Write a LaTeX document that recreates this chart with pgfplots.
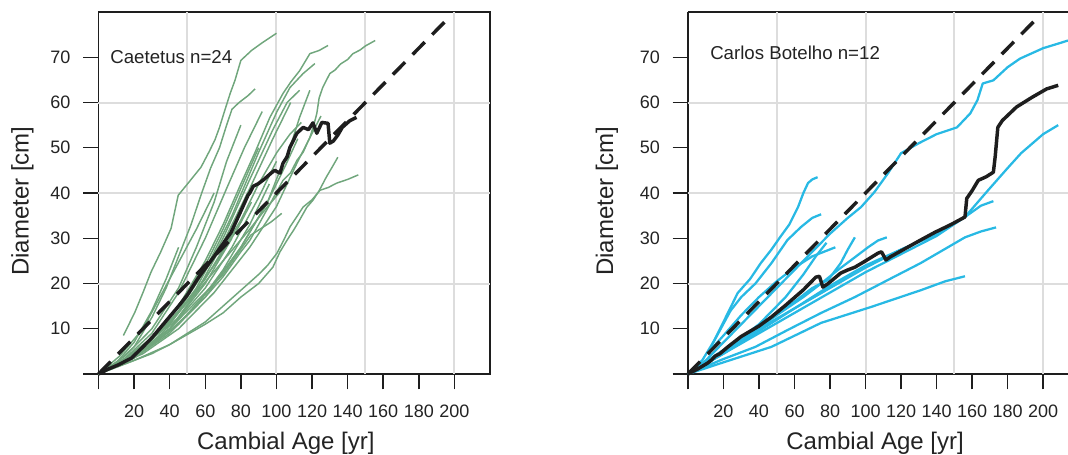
\documentclass[border=0pt]{standalone}
\usepackage{fontspec}
\setmainfont{Liberation Sans}
\usepackage{pgfplots}
\pgfplotsset{compat=1.18}
\definecolor{grn}{RGB}{112,166,124}
\definecolor{cyn}{RGB}{40,185,228}
\definecolor{blk}{RGB}{30,30,30}
\definecolor{grd}{RGB}{221,221,221}
\definecolor{txt}{RGB}{35,35,35}
\pgfplotsset{
 panel/.style={
  scale only axis, height=271.5pt, ymin=0, ymax=80, xmin=0,
  xtick={0,20,...,200}, xticklabels={,20,40,60,80,100,120,140,160,180,200},
  ytick={0,10,...,70}, yticklabels={,10,20,30,40,50,60,70},
  xtick pos=bottom, ytick pos=left,
  tick align=outside, major tick length=11.5pt,
  every tick/.style={blk, line width=1.1pt},
  axis line style={blk, line width=1.3pt},
  tick label style={font=\fontsize{13.5}{15}\selectfont, text=txt},
  xticklabel style={yshift=-8.5pt},
  yticklabel style={xshift=-6pt},
  /pgf/number format/assume math mode=true,
  extra x ticks={50,100,150,200}, extra y ticks={20,40,60},
  extra x tick labels={\empty,\empty,\empty,\empty},
  extra y tick labels={\empty,\empty,\empty},
  extra tick style={grid=major, major tick length=0pt},
  major grid style={grd, line width=1.5pt},
  label style={font=\fontsize{18}{20}\selectfont, text=txt},
  clip=false,
 },
 g/.style={grn, line width=1.1pt, line join=round},
 c/.style={cyn, line width=1.7pt, line join=round},
 mean/.style={blk, line width=2.6pt, line join=round},
 diag/.style={blk, line width=2.6pt, dash pattern=on 13pt off 8pt},
}
\begin{document}
\begin{tikzpicture}
\begin{axis}[panel, width=293.6pt, xmax=220,
  xlabel={Cambial Age [yr]}, ylabel={Diameter [cm]},
  x label style={at={(axis description cs:0.4786,-0.1906)}, anchor=center},
  y label style={at={(axis description cs:-0.1941,0.4775)}, anchor=center}]
\addplot[g] coordinates {(14,8.5)(20.5,13.7)(25,18)(29.5,22.5)(35,27)(40.8,32.2)(44.8,39.5)(50,42)(57.6,45.7)(62,49)(65.4,51.7)(68,54.5)(71,58.3)(74,62)(76.7,64.9)(80,69.3)(86,71.5)(92,73.2)(100,75.3)};
\addplot[g] coordinates {(0,0)(10,2.5)(20,6)(30,12.5)(38,19)(45,26)(52,33)(58,40)(63,45.5)(68,50)(72,55)(75,58.5)(79,60)(84,61.5)(88,63)};
\addplot[g] coordinates {(0,0)(15,3)(30,8)(45,15)(60,25)(70,33)(80,42)(88,49)(96.3,56.7)(103.7,62)(108,64.5)(113,67)(118.8,70.8)(124,71.5)(129,72.6)};
\addplot[g] coordinates {(0,0)(15,3)(30,7.5)(45,14)(60,23)(75,35)(90,49)(100.3,58)(107.6,63.3)(115,66.4)(121.6,68.6)};
\addplot[g] coordinates {(0,0)(20,4)(30,6.5)(40,9.5)(50,13)(60,17)(70,21.5)(80,27)(85,29.5)(90,33)(97,38)(103.7,42.8)(108,44.5)(111.5,47.2)(115,49)(118.8,52.3)(121,55)(122.7,57.6)(124,61)(126,63.3)(130,66.4)(133,67.2)(136,68.5)(140,69.5)(143,70.8)(147,71.6)(150,72.5)(155.5,73.7)};
\addplot[g] coordinates {(0,0)(20,3.5)(40,9)(60,17)(80,28)(95,38)(102,45)(107.6,50)(113,56.7)(118.8,62.7)};
\addplot[g] coordinates {(0,0)(20,4.5)(40,11)(55,19)(70,30)(85,43)(98,54)(106,60)(113,62.7)};
\addplot[g] coordinates {(0,0)(20,3)(40,6.5)(60,11)(70,13.5)(80,17)(90,20)(98,23.6)(102,27)(106,29.6)(110,32)(113,34)(117,36.8)(120.5,38.4)(124,40.5)(128,43.5)(131,45.5)(134.5,47.9)};
\addplot[g] coordinates {(0,0)(30,4.5)(40,6.5)(50,9)(60,11.5)(70,15)(80,18.5)(90,22)(95,24)(100.3,26.7)(104,29.5)(107.6,32.5)(111,34.5)(115,36.9)(120,38.5)(124.5,40.6)(129,41.2)(134,42.2)(140,43)(146,44)};
\addplot[g] coordinates {(0,0)(20,4.5)(40,11)(60,21)(80,34)(90,42)(100.3,49)(107.6,53)(114,55.6)};
\addplot[g] coordinates {(0,0)(20,4)(40,10)(55,16)(70,22)(85.6,30.7)(97,33.6)(103,35.5)};
\addplot[g] coordinates {(0,0)(20,4.5)(40,11.5)(55,18)(70,25)(85,32)(95,37)(102,40.2)};
\addplot[g] coordinates {(0,0)(10,2.5)(20,7)(30,14)(38,21)(45,28)};
\addplot[g] coordinates {(0,0)(15,4)(30,10)(45,19)(55,28)(65,38)(72,47)(80,55)};
\addplot[g] coordinates {(0,0)(15,3.5)(30,8)(45,15)(60,24)(70,32)(80,41)(90,50)};
\addplot[g] coordinates {(0,0)(20,4)(40,10)(55,18)(70,29)(85,41)(98,52)(108,60)};
\addplot[g] coordinates {(0,0)(20,4)(40,9.5)(55,15)(70,23)(85,33)(96,42)};
\addplot[g] coordinates {(0,0)(20,4.5)(35,9.5)(50,16)(65,24)(78,32)(86,38)};
\addplot[g] coordinates {(0,0)(25,5)(45,11)(65,20)(80,28)(95,38)(105,46)(112,52)};
\addplot[g] coordinates {(0,0)(15,3)(30,7)(45,12.5)(60,20)(75,30)};
\addplot[g] coordinates {(0,0)(20,4)(40,10)(60,19)(75,28)(90,39)(100,47)};
\addplot[g] coordinates {(0,0)(12,4)(25,10)(40,21)(55,32)(65,40)};
\addplot[g] coordinates {(0,0)(25,4.5)(45,10)(65,18)(85,28)(100,37)(112,47)(125,57)};
\addplot[g] coordinates {(0,0)(15,3.5)(30,9)(45,18)(60,30)(72,41)(82,50)(92,58)};
\addplot[diag] coordinates {(0,0)(196,78.4)};
\addplot[mean] coordinates {(0,0)(5,1)(11,2)(18.5,3.5)(25,6)(30,8)(37.5,11.5)(45,15)(50,17.5)(56,21.2)(65,26)(74.5,31.3)(80,36)(84,39.5)(85,40)(87,41.5)(89.6,42)(93,43)(97,44.4)(99,45)(102,44.4)(103.7,46.6)(106,48)(107.6,50.1)(111.5,53.2)(115,54.5)(118,54)(120.5,55.5)(122.7,53.2)(125.5,55.6)(129,55.4)(130,51)(132,51.5)(134.5,52.8)(137,54.5)(141.3,56)(145,56.7)};
\node[anchor=west, inner sep=0pt, font=\fontsize{14}{16}\selectfont, text=txt] at (axis cs:6.5,70) {Caetetus n=24};
\end{axis}
\begin{axis}[panel, at={(442.1pt,0pt)}, width=285pt, xmax=214,
  axis x line*=box, axis y line*=left, y axis line style={-},
  xlabel={Cambial Age [yr]}, ylabel={Diameter [cm]},
  x label style={at={(axis description cs:0.4925,-0.1906)}, anchor=center},
  y label style={at={(axis description cs:-0.2132,0.4775)}, anchor=center}]
\addplot[c] coordinates {(12,5)(13,6)(18.6,10.4)(28,17.9)(35,21)(41,24.5)(47,27.5)(52,30.3)(57,33)(62,36.9)(65,40)(67.6,42.2)(70,43)(73,43.5)};
\addplot[c] coordinates {(0,0)(8,3)(15,7.5)(24,14)(30,17)(38,20)(47,24.5)(56,29.6)(63.7,32.5)(70,34.5)(75,35.3)};
\addplot[c] coordinates {(0,0)(10,3)(20,7)(30,11)(40,15)(50,19)(60,23)(70,27)(80,31)(90,34.5)(97.5,36.9)(105,40.2)(112.7,44.4)(120,48.8)(130,51)(140,53)(151.5,54.5)(159,57.6)(163,60.5)(166,64.2)(172,64.9)(180,67.8)(187,69.7)(200,72)(210,73.2)(214,73.7)};
\addplot[c] coordinates {(0,0)(15,4)(30,8)(45,12)(60,16)(70,19)(79,20.8)(86,24.5)(90,27.5)(94,30.2)};
\addplot[c] coordinates {(0,0)(15,3.5)(30,7.5)(50,13)(65,17)(75,20)(84.5,23)(93,25.5)(101.4,28)(107,29.5)(112,30.2)};
\addplot[c] coordinates {(0,0)(20,5)(40,10)(60,14.5)(80,19)(100,23.5)(120,27.5)(140,31)(156,34.7)(165,37.2)(172,38.2)};
\addplot[c] coordinates {(0,0)(20,4.5)(40,9)(60,13.5)(80,18)(100,22.5)(120,26.5)(140,30.5)(156,34.7)(169,40.6)(180,45.5)(187.6,48.8)(200,53)(208.5,55)};
\addplot[c] coordinates {(0,0)(18.6,3.1)(38,6)(56,9.7)(75,13.5)(94,17)(112.7,20.8)(131,24.5)(156,30.2)(165,31.5)(173.5,32.4)};
\addplot[c] coordinates {(0,0)(18.6,2.4)(47,6)(75,11.3)(103,14.8)(131,18.5)(145,20.5)(156,21.6)};
\addplot[c] coordinates {(12,5)(20,8.5)(30,13)(40,17)(50,20.5)(60,23.5)(70,26)(83,28)};
\addplot[c] coordinates {(0,0)(20,5)(40,11)(55,17)(65,22)(72,26)(78,29)};
\addplot[c] coordinates {(0,0)(20,4.5)(40,9.5)(60,14.5)(80,19.5)(100,24)(120,27.5)(135,30)(145,32)};
\addplot[diag] coordinates {(0,0)(196,78.4)};
\addplot[mean] coordinates {(0,0)(5,1)(11,2.4)(13,3)(15.5,4)(18,4.5)(22.5,6)(30,8.3)(40,10.6)(47,12.6)(55,15.2)(65,18.6)(72,21.4)(74,21.6)(76,19.2)(79,20)(86,22.3)(90,23)(94,23.6)(100,25)(107,26.7)(109,27)(111.5,25.2)(114,25.9)(120,27.2)(131,29.6)(139,31.3)(148,33)(156,34.7)(157,38.8)(160,40.5)(163.5,42.8)(168,43.6)(172,44.6)(173,48)(174.5,54.5)(177,56)(185,59)(194,61.2)(202,63)(208.5,63.8)};
\node[anchor=west, inner sep=0pt, font=\fontsize{14}{16}\selectfont, text=txt] at (axis cs:12.4,70.9) {Carlos Botelho n=12};
\end{axis}
\pgfresetboundingbox
\useasboundingbox (-73.875pt,-60pt) rectangle (727.125pt,280.5pt);
\end{tikzpicture}
\end{document}
